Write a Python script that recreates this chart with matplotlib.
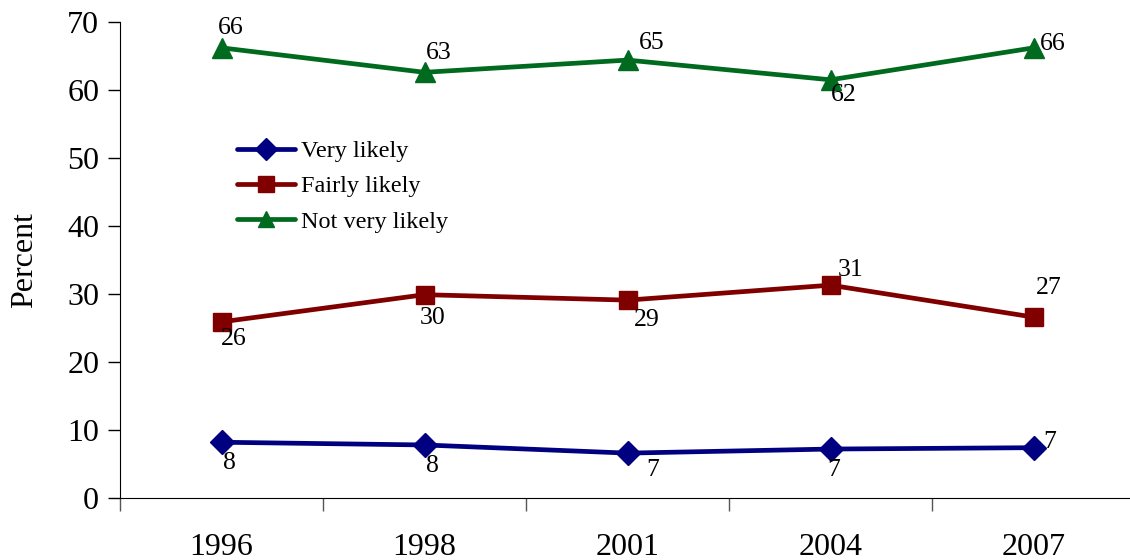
import matplotlib
matplotlib.use("Agg")
import matplotlib.pyplot as plt
from matplotlib.ticker import FixedLocator

years = ["1996", "1998", "2001", "2004", "2007"]
very_likely = [8.2, 7.8, 6.6, 7.2, 7.4]
fairly_likely = [25.9, 29.9, 29.1, 31.3, 26.6]
not_very_likely = [66.2, 62.6, 64.4, 61.5, 66.2]
very_labels = ["8", "8", "7", "7", "7"]
fairly_labels = ["26", "30", "29", "31", "27"]
not_labels = ["66", "63", "65", "62", "66"]

plt.rcParams['font.family'] = ['Liberation Serif', 'DejaVu Serif']

fig = plt.figure(figsize=(11.3, 5.6), dpi=100)
ax = fig.add_axes([120/1130, 62/560, 1 - 120/1130, 476/560])

x = list(range(len(years)))
series = [
    (very_likely, very_labels, "#000080", "D", 12, "Very likely",
     [(8, -21), (8, -21), (25, -17), (3, -21), (16, 6)]),
    (fairly_likely, fairly_labels, "#800000", "s", 13, "Fairly likely",
     [(12, -17), (8, -23), (19, -20), (20, 15), (15, 29)]),
    (not_very_likely, not_labels, "#006a1e", "^", 14, "Not very likely",
     [(9, 20), (14, 19), (24, 17), (13, -15), (19, 4)]),
]
for vals, labs, col, mk, ms, name, offs in series:
    ax.plot(x, vals, color=col, marker=mk, markersize=ms, linewidth=3.4,
            label=name, solid_capstyle='round')
    for xi, v, lab, off in zip(x, vals, labs, offs):
        ax.annotate(lab, (xi, v), xytext=off, textcoords='offset pixels',
                    ha='center', va='center', fontsize=18.5, color='black')

ax.set_xlim(-0.5, 4.5 - 0.025)
ax.set_ylim(0, 70)
ax.set_yticks(range(0, 71, 10))
ax.set_xticks(x)
ax.set_xticklabels(years, fontsize=23)
ax.xaxis.set_minor_locator(FixedLocator([-0.5, 0.5, 1.5, 2.5, 3.5]))
ax.tick_params(axis='x', which='major', length=0, pad=25)
ax.tick_params(axis='x', which='minor', length=9, width=1, color='#555555', direction='out')
ax.tick_params(axis='y', labelsize=23, length=9, width=1, direction='out', pad=6)
for s in ['top', 'right']:
    ax.spines[s].set_visible(False)
ax.set_ylabel("Percent", fontsize=23, labelpad=20)

leg = ax.legend(loc='upper left', bbox_to_anchor=(237/1130, (560-140)/560),
                bbox_transform=fig.transFigure, frameon=False, fontsize=17.5,
                handlelength=2.4, handletextpad=0.25, labelspacing=0.55,
                borderaxespad=0, borderpad=0)
for h in leg.legend_handles:
    h.set_markersize(11)

fig.savefig("out.png", dpi=100)
